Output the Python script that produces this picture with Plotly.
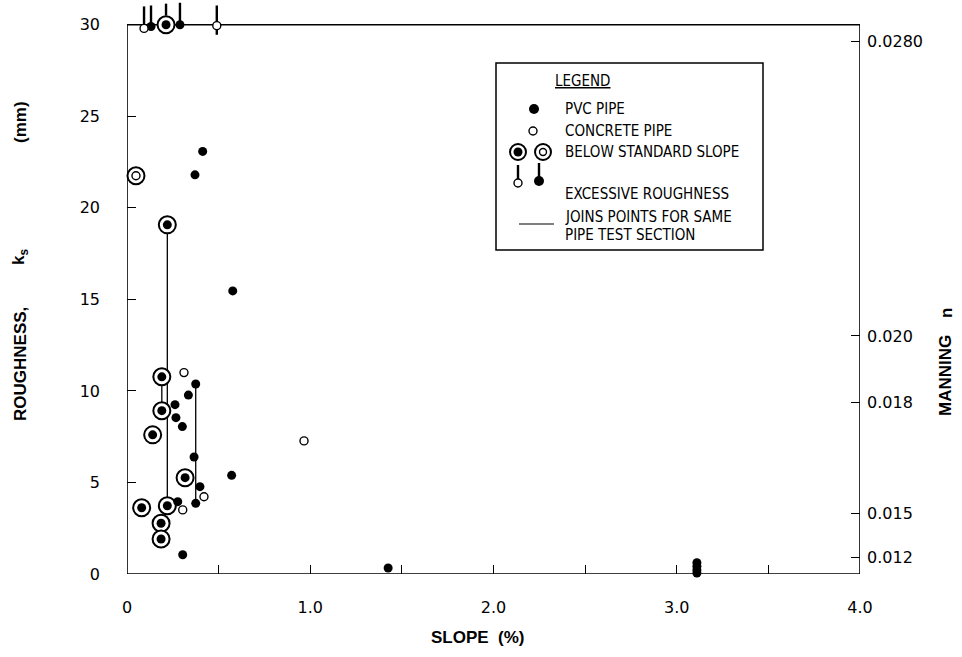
import plotly.graph_objects as go

# ---------------- data ----------------
# PVC pipe (filled circles)
pvc_slope = [0.375, 0.335, 0.262, 0.267, 0.302, 0.366, 0.398, 0.375, 0.277, 0.304,
             0.571, 0.413, 0.371, 0.577, 1.425, 3.11, 3.11, 3.11, 3.11]
pvc_ks = [10.38, 9.77, 9.25, 8.54, 8.05, 6.39, 4.77, 3.86, 3.95, 1.05,
          5.39, 23.08, 21.80, 15.46, 0.33, 0.62, 0.42, 0.22, 0.05]

# Concrete pipe (open circles)
conc_slope = [0.311, 0.304, 0.420, 0.966]
conc_ks = [11.0, 3.50, 4.22, 7.27]

# Below standard slope, PVC (ring + filled dot)
bss_pvc_slope = [0.19, 0.19, 0.140, 0.317, 0.080, 0.22, 0.186, 0.186, 0.22]
bss_pvc_ks = [10.77, 8.92, 7.60, 5.26, 3.62, 3.73, 2.77, 1.91, 19.07]

# Below standard slope, concrete (ring + open dot)
bss_conc_slope = [0.049]
bss_conc_ks = [21.75]

# Excessive roughness (plotted at the top of the scale)
exc_slope = [0.093, 0.131, 0.213, 0.289, 0.490]
exc_ks = [29.8, 29.9, 30.0, 30.0, 29.95]
exc_kind = ["concrete", "pvc", "pvc_bss", "pvc", "concrete"]
exc_stem_top = [31.0, 31.05, 31.15, 31.2, 31.05]
exc_stem_bottom = [29.8, 29.9, 30.5, 30.0, 29.45]

# Vertical lines joining points of the same pipe test section
join_slope = [0.22, 0.19, 0.375]
join_ks_top = [19.07, 10.77, 10.38]
join_ks_bottom = [3.73, 8.92, 3.86]

# Axis ticks
x_tickvals = [0, 1.0, 2.0, 3.0, 4.0]
x_ticktext = ["0", "1.0", "2.0", "3.0", "4.0"]
y_tickvals = [0, 5, 10, 15, 20, 25, 30]
manning_labels = ["0.012", "0.015", "0.018", "0.020", "0.0280"]
manning_pos_ks = [0.9, 3.3, 9.35, 13.0, 29.1]

# ---------------- figure ----------------
BLACK = "black"
TICKFONT = dict(family="DejaVu Sans, Arial, sans-serif", size=16, color=BLACK)
TITLEFONT = dict(family="Liberation Sans, Arial, sans-serif", size=17, color=BLACK, weight="bold")
LEGFONT = dict(family="Liberation Sans Narrow, DejaVu Sans Condensed, Arial Narrow, sans-serif",
               size=15, color=BLACK)

fig = go.Figure()

# join lines
jx, jy = [], []
for s, t, b in zip(join_slope, join_ks_top, join_ks_bottom):
    jx += [s, s, None]
    jy += [t, b, None]
fig.add_trace(go.Scatter(x=jx, y=jy, mode="lines", line=dict(color=BLACK, width=1.3),
                         hoverinfo="skip", showlegend=False))

# stems of excessive roughness
sx, sy = [], []
for s, t, b in zip(exc_slope, exc_stem_top, exc_stem_bottom):
    sx += [s, s, None]
    sy += [b, t, None]
fig.add_trace(go.Scatter(x=sx, y=sy, mode="lines", line=dict(color=BLACK, width=2.4),
                         hoverinfo="skip", showlegend=False))

# rings (below standard slope)
ring_x = bss_pvc_slope + bss_conc_slope + [s for s, k in zip(exc_slope, exc_kind) if k == "pvc_bss"]
ring_y = bss_pvc_ks + bss_conc_ks + [v for v, k in zip(exc_ks, exc_kind) if k == "pvc_bss"]
fig.add_trace(go.Scatter(x=ring_x, y=ring_y, mode="markers", cliponaxis=False,
                         marker=dict(symbol="circle", size=17, color="white",
                                     line=dict(color=BLACK, width=2)),
                         showlegend=False))

# filled dots (PVC)
fx = pvc_slope + bss_pvc_slope + [s for s, k in zip(exc_slope, exc_kind) if k in ("pvc", "pvc_bss")]
fy = pvc_ks + bss_pvc_ks + [v for v, k in zip(exc_ks, exc_kind) if k in ("pvc", "pvc_bss")]
fig.add_trace(go.Scatter(x=fx, y=fy, mode="markers", cliponaxis=False,
                         marker=dict(symbol="circle", size=9, color=BLACK,
                                     line=dict(color=BLACK, width=0)),
                         showlegend=False))

# open dots (concrete)
ox = conc_slope + bss_conc_slope + [s for s, k in zip(exc_slope, exc_kind) if k == "concrete"]
oy = conc_ks + bss_conc_ks + [v for v, k in zip(exc_ks, exc_kind) if k == "concrete"]
fig.add_trace(go.Scatter(x=ox, y=oy, mode="markers", cliponaxis=False,
                         marker=dict(symbol="circle", size=8, color="white",
                                     line=dict(color=BLACK, width=1.4)),
                         showlegend=False))

# ---------------- custom legend (pixel-coordinate overlay axes) ----------------
# stems in legend
fig.add_trace(go.Scatter(x=[518, 518, None, 539, 539], y=[182, 165, None, 180, 163],
                         xaxis="x3", yaxis="y3", mode="lines",
                         line=dict(color=BLACK, width=2.4), hoverinfo="skip", showlegend=False))
leg_traces = [
    dict(x=[534], y=[109], marker=dict(size=10, color=BLACK)),
    dict(x=[533], y=[131], marker=dict(size=8, color="white", line=dict(color=BLACK, width=1.4))),
    dict(x=[518, 543], y=[152, 152], marker=dict(size=16, color="white", line=dict(color=BLACK, width=2))),
    dict(x=[518], y=[152], marker=dict(size=9, color=BLACK)),
    dict(x=[543], y=[152], marker=dict(size=7, color="white", line=dict(color=BLACK, width=1.4))),
    dict(x=[518], y=[183], marker=dict(size=8, color="white", line=dict(color=BLACK, width=1.4))),
    dict(x=[539], y=[181], marker=dict(size=10, color=BLACK)),
]
for t in leg_traces:
    fig.add_trace(go.Scatter(x=t["x"], y=t["y"], xaxis="x3", yaxis="y3", mode="markers",
                             marker=dict(symbol="circle", **t["marker"]),
                             cliponaxis=False, hoverinfo="skip", showlegend=False))
# join-line sample
fig.add_trace(go.Scatter(x=[519, 554], y=[224, 224], xaxis="x3", yaxis="y3", mode="lines",
                         line=dict(color=BLACK, width=1.2), hoverinfo="skip", showlegend=False))

# legend box
fig.add_shape(type="rect", xref="x3", yref="y3", x0=496, x1=763, y0=63, y1=250,
              line=dict(color=BLACK, width=1.5), fillcolor="rgba(0,0,0,0)")

legend_texts = [
    ("<u>LEGEND</u>", 553, 81),
    ("PVC PIPE", 563, 109),
    ("CONCRETE PIPE", 563, 131),
    ("BELOW STANDARD SLOPE", 563, 152),
    ("EXCESSIVE ROUGHNESS", 563, 194),
    ("JOINS POINTS FOR SAME", 563, 217),
    ("PIPE TEST SECTION", 563, 235),
]
for txt, x, y in legend_texts:
    fig.add_annotation(text=txt, xref="x3", yref="y3", x=x, y=y, xanchor="left",
                       yanchor="middle", showarrow=False, font=LEGFONT)

# frame of the plot (0..4, 0..30)
fig.add_shape(type="rect", xref="x", yref="y", x0=0, x1=4, y0=0, y1=30,
              line=dict(color=BLACK, width=1.6), fillcolor="rgba(0,0,0,0)", layer="below")

# axis titles (positions in figure pixels -> paper coords)
def px_to_paper(px, py):
    return (px - 127) / 733, (574 - py) / 574

axis_titles = [
    ("SLOPE\u00a0\u00a0(%)", 478, 637, 0),
    ("ROUGHNESS,", 20, 364, -90),
    ("k<sub>s</sub>", 20, 257, -90),
    ("(mm)", 20, 122, -90),
    ("MANNING", 946, 376, -90),
    ("n", 946, 313, -90),
]
for txt, px, py, ang in axis_titles:
    ax_, ay_ = px_to_paper(px, py)
    fig.add_annotation(text=txt, xref="paper", yref="paper", x=ax_, y=ay_,
                       xanchor="center", yanchor="middle", textangle=ang,
                       showarrow=False, font=TITLEFONT)

YMAX = 31.35
fig.update_layout(
    width=962, height=657,
    margin=dict(l=127, r=102, t=0, b=83, autoexpand=False),
    paper_bgcolor="white", plot_bgcolor="white",
    showlegend=False,
    xaxis=dict(range=[0, 4], tickvals=x_tickvals, ticktext=x_ticktext, ticks="inside",
               ticklen=9, tickwidth=1.3, tickcolor=BLACK, showline=False, showgrid=False,
               zeroline=False, tickfont=TICKFONT, ticklabelstandoff=22, fixedrange=True,
               minor=dict(tickmode="linear", tick0=0, dtick=0.5, ticks="inside", ticklen=9,
                          tickwidth=1.3, tickcolor=BLACK, showgrid=False)),
    yaxis=dict(range=[0, YMAX], tickvals=y_tickvals, ticktext=[str(v) for v in y_tickvals],
               ticks="inside", ticklen=9, tickwidth=1.3, tickcolor=BLACK, showline=False,
               showgrid=False, zeroline=False, tickfont=TICKFONT, ticklabelstandoff=26,
               fixedrange=True),
    yaxis2=dict(range=[0, YMAX], overlaying="y", side="right", anchor="x",
                tickvals=manning_pos_ks, ticktext=manning_labels, ticks="inside", ticklen=9,
                tickwidth=1.3, tickcolor=BLACK, showline=False, showgrid=False, zeroline=False,
                tickfont=TICKFONT, ticklabelstandoff=6, fixedrange=True),
    xaxis3=dict(range=[127, 860], overlaying="x", anchor="y3", visible=False, fixedrange=True),
    yaxis3=dict(range=[574, 0], overlaying="y", anchor="x3", visible=False, fixedrange=True),
)
# dummy trace so yaxis2 is drawn
fig.add_trace(go.Scatter(x=[None], y=[None], yaxis="y2", showlegend=False, hoverinfo="skip"))

fig.write_html("out.html", config={"displayModeBar": False},
               post_script="document.body.style.margin='0';document.body.style.padding='0';")
